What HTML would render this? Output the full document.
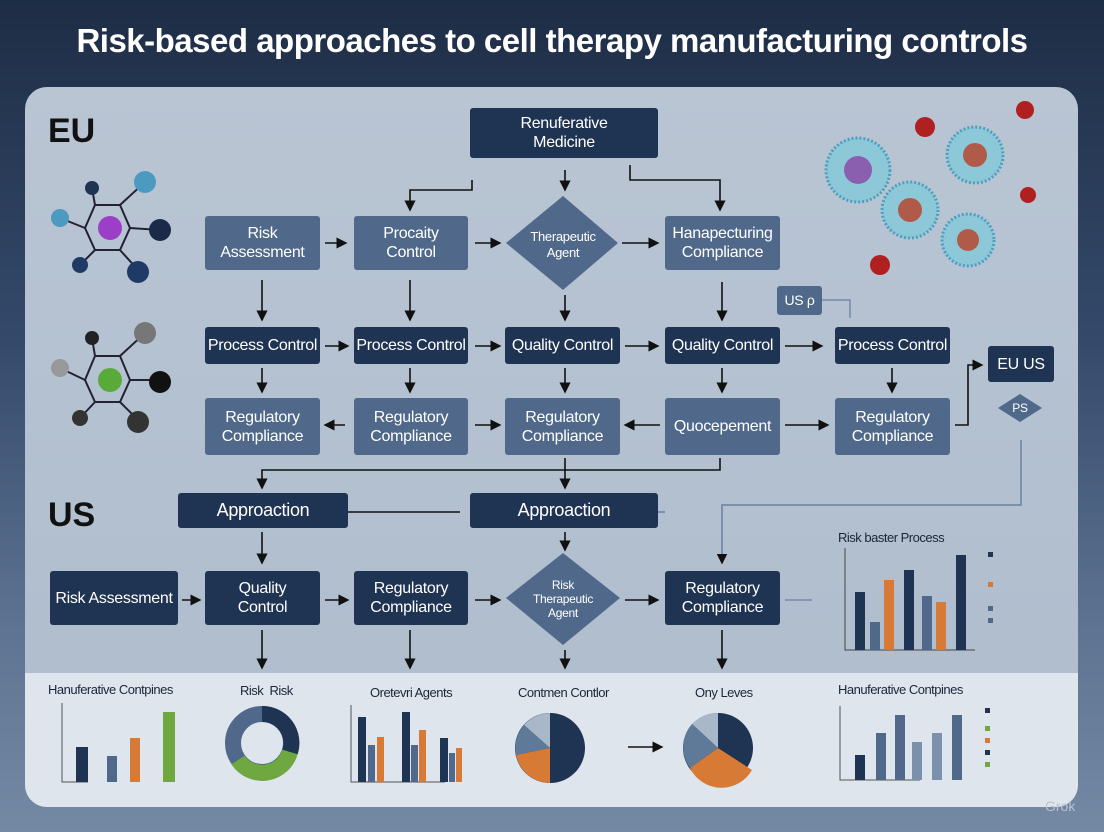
<!DOCTYPE html>
<html><head><meta charset="utf-8"><style>
*{margin:0;padding:0;box-sizing:border-box}
body{width:1104px;height:832px;overflow:hidden;font-family:"Liberation Sans",sans-serif;background:linear-gradient(180deg,#1e2d45 0%,#34496a 40%,#5d7391 75%,#7489a4 100%);position:relative}
.t{position:absolute;left:0;top:22px;width:1104px;text-align:center;color:#fff;font-weight:bold;font-size:33px;letter-spacing:-0.5px}
.panel{position:absolute;left:25px;top:87px;width:1053px;height:720px;border-radius:22px;background:linear-gradient(180deg,#b9c5d3,#aebccd)}
.strip{position:absolute;left:25px;top:673px;width:1053px;height:134px;border-radius:0 0 22px 22px;background:#dfe5ec}
.n{position:absolute;display:flex;align-items:center;justify-content:center;text-align:center;color:#fff;font-size:16px;line-height:19px;border-radius:3px;letter-spacing:-0.3px}
.d{background:#1f3352}.m{background:#50698a}
.lab{position:absolute;font-weight:bold;font-size:34px;color:#111}
.ct{position:absolute;font-size:13px;color:#1a2638;letter-spacing:-0.5px}
</style></head><body>
<div class="t">Risk-based approaches to cell therapy manufacturing controls</div>
<div class="panel"></div>
<div class="strip"></div>
<div class="lab" style="left:48px;top:112px">EU</div>
<div class="lab" style="left:48px;top:496px">US</div>

<svg style="position:absolute;left:0;top:0" width="1104" height="832">
<defs><marker id="a" markerWidth="7" markerHeight="7" refX="6" refY="3.5" orient="auto"><path d="M0,0L7,3.5L0,7z" fill="#111"/></marker></defs>
<g stroke="#111" stroke-width="1.6" fill="none" marker-end="url(#a)">
<path d="M472,180V190H410V210"/><path d="M630,165V180H720V210"/>
<path d="M565,170V190"/>
<path d="M325,243H346"/><path d="M475,243H500"/><path d="M622,243H658"/>
<path d="M262,280V320"/><path d="M410,280V320"/><path d="M565,295V320"/><path d="M722,282V320"/>
<path d="M325,346H348"/><path d="M475,346H500"/><path d="M625,346H658"/><path d="M785,346H822"/>
<path d="M262,368V392"/><path d="M410,368V392"/><path d="M565,368V392"/><path d="M722,368V392"/><path d="M892,368V392"/>
<path d="M345,425H325"/><path d="M475,425H500"/><path d="M660,425H625"/><path d="M785,425H828"/>
<path d="M955,425H968V365H982"/>
<path d="M565,458V470H262V488"/><path d="M720,458V470H565V488"/>
<path d="M262,532V563"/><path d="M565,532V550"/>
<path d="M182,600H200"/><path d="M325,600H348"/><path d="M475,600H500"/><path d="M625,600H658"/>
<path d="M262,630V668"/><path d="M410,630V668"/><path d="M565,650V668"/><path d="M722,630V668"/>
<path d="M628,747H662"/>
</g>
<path d="M348,512H460" stroke="#111" stroke-width="1.4"/>
<path d="M1021,440V505H722V563" stroke="#6b80a0" stroke-width="1.5" fill="none" marker-end="url(#a)"/>
<path d="M665,512H658" stroke="#6b80a0" stroke-width="1.5"/>
<path d="M822,300H850V318" stroke="#6b80a0" stroke-width="1.3" fill="none"/>
<path d="M785,600H812" stroke="#6b80a0" stroke-width="1.3"/>
<polygon points="563,196 618,243 563,290 506,243" fill="#50698a"/>
<polygon points="563,553 620,598 563,645 506,598" fill="#50698a"/>
<polygon points="1020,394 1042,408 1020,422 998,408" fill="#50698a"/>
<g stroke="#223" stroke-width="2">
<polygon points="95,205 120,205 130,228 120,250 95,250 85,228" fill="none"/>
<line x1="85" y1="228" x2="60" y2="218"/><line x1="120" y1="205" x2="145" y2="182"/><line x1="95" y1="205" x2="92" y2="188"/><line x1="130" y1="228" x2="160" y2="230"/><line x1="95" y1="250" x2="80" y2="265"/><line x1="120" y1="250" x2="138" y2="270"/>
<polygon points="95,356 120,356 130,380 120,402 95,402 85,380" fill="none"/>
<line x1="85" y1="380" x2="60" y2="368"/><line x1="120" y1="356" x2="145" y2="333"/><line x1="95" y1="356" x2="92" y2="338"/><line x1="130" y1="380" x2="160" y2="380"/><line x1="95" y1="402" x2="80" y2="418"/><line x1="120" y1="402" x2="138" y2="420"/>
</g>
<circle cx="110" cy="228" r="12" fill="#9b3fc8"/><circle cx="145" cy="182" r="11" fill="#4c9ac0"/><circle cx="60" cy="218" r="9" fill="#4c9ac0"/><circle cx="92" cy="188" r="7" fill="#1f3352"/><circle cx="160" cy="230" r="11" fill="#1a2a48"/><circle cx="80" cy="265" r="8" fill="#1f3a66"/><circle cx="138" cy="272" r="11" fill="#1f3a66"/>
<circle cx="110" cy="380" r="12" fill="#5aaa3a"/><circle cx="145" cy="333" r="11" fill="#777"/><circle cx="60" cy="368" r="9" fill="#999"/><circle cx="92" cy="338" r="7" fill="#222"/><circle cx="160" cy="382" r="11" fill="#111"/><circle cx="80" cy="418" r="8" fill="#333"/><circle cx="138" cy="422" r="11" fill="#333"/>
<g fill="#8cc8d8" stroke="#4aa0c0" stroke-width="3" stroke-dasharray="2 2">
<circle cx="858" cy="170" r="32"/><circle cx="910" cy="210" r="28"/><circle cx="975" cy="155" r="28"/><circle cx="968" cy="240" r="26"/>
</g>
<circle cx="858" cy="170" r="14" fill="#8a5fb0"/><circle cx="910" cy="210" r="12" fill="#b05a4a"/><circle cx="975" cy="155" r="12" fill="#b05a4a"/><circle cx="968" cy="240" r="11" fill="#b05a4a"/>
<circle cx="925" cy="127" r="10" fill="#b02020"/><circle cx="880" cy="265" r="10" fill="#b02020"/><circle cx="1025" cy="110" r="9" fill="#b02020"/><circle cx="1028" cy="195" r="8" fill="#b02020"/>
<g>
<path d="M845,548V650H975" stroke="#444" fill="none"/>
<rect x="855" y="592" width="10" height="58" fill="#1f3352"/><rect x="870" y="622" width="10" height="28" fill="#50698a"/><rect x="884" y="580" width="10" height="70" fill="#d67a35"/>
<rect x="904" y="570" width="10" height="80" fill="#1f3352"/><rect x="922" y="596" width="10" height="54" fill="#50698a"/><rect x="936" y="602" width="10" height="48" fill="#d67a35"/><rect x="956" y="555" width="10" height="95" fill="#1f3352"/>
<rect x="988" y="552" width="5" height="5" fill="#1f3352"/><rect x="988" y="582" width="5" height="5" fill="#d67a35"/><rect x="988" y="606" width="5" height="5" fill="#50698a"/><rect x="988" y="618" width="5" height="5" fill="#50698a"/>
</g>
<path d="M62,703V782H88" stroke="#555" fill="none"/>
<rect x="76" y="747" width="12" height="35" fill="#1f3352"/><rect x="107" y="756" width="10" height="26" fill="#50698a"/><rect x="130" y="738" width="10" height="44" fill="#d67a35"/><rect x="163" y="712" width="12" height="70" fill="#6fa840"/>
<circle cx="262" cy="743" r="29" fill="none" stroke="#50698a" stroke-width="16"/>
<path d="M262,714A29,29 0 0 1 290,752" stroke="#1f3352" stroke-width="16" fill="none"/>
<path d="M290,752A29,29 0 0 1 238,760" stroke="#6fa840" stroke-width="16" fill="none"/>
<path d="M351,705V782H445" stroke="#555" fill="none"/>
<rect x="358" y="717" width="8" height="65" fill="#1f3352"/><rect x="368" y="745" width="7" height="37" fill="#50698a"/><rect x="377" y="737" width="7" height="45" fill="#d67a35"/>
<rect x="402" y="712" width="8" height="70" fill="#1f3352"/><rect x="411" y="745" width="7" height="37" fill="#50698a"/><rect x="419" y="730" width="7" height="52" fill="#d67a35"/>
<rect x="440" y="738" width="8" height="44" fill="#1f3352"/><rect x="449" y="753" width="6" height="29" fill="#50698a"/><rect x="456" y="748" width="6" height="34" fill="#d67a35"/>
<circle cx="550" cy="748" r="35" fill="#1f3352"/>
<path d="M550,748L550,713A35,35 0 0 0 524,725z" fill="#a8b8c8"/>
<path d="M550,748L524,725A35,35 0 0 0 516,755z" fill="#5f7a98"/>
<path d="M550,748L516,755A35,35 0 0 0 550,783z" fill="#d67a35"/>
<circle cx="718" cy="748" r="35" fill="#1f3352"/>
<path d="M718,748L718,713A35,35 0 0 0 692,724z" fill="#a8b8c8"/>
<path d="M718,748L692,724A35,35 0 0 0 690,768z" fill="#5f7a98"/>
<path d="M718,748L690,768A35,35 0 0 0 752,770z" fill="#d67a35"/>
<path d="M840,706V780H920" stroke="#555" fill="none"/>
<rect x="855" y="755" width="10" height="25" fill="#1f3352"/><rect x="876" y="733" width="10" height="47" fill="#50698a"/><rect x="895" y="715" width="10" height="65" fill="#50698a"/><rect x="912" y="742" width="10" height="38" fill="#7a90ab"/><rect x="932" y="733" width="10" height="47" fill="#7a90ab"/><rect x="952" y="715" width="10" height="65" fill="#50698a"/>
<rect x="985" y="708" width="5" height="5" fill="#1f3352"/><rect x="985" y="726" width="5" height="5" fill="#6fa840"/><rect x="985" y="738" width="5" height="5" fill="#d67a35"/><rect x="985" y="750" width="5" height="5" fill="#1f3352"/><rect x="985" y="762" width="5" height="5" fill="#6fa840"/>
</svg>

<div class="n d" style="left:470px;top:108px;width:188px;height:50px">Renuferative<br>Medicine</div>
<div class="n m" style="left:205px;top:216px;width:115px;height:54px">Risk<br>Assessment</div>
<div class="n m" style="left:354px;top:216px;width:114px;height:54px">Procaity<br>Control</div>
<div class="n" style="left:506px;top:228px;width:114px;height:34px;font-size:13px;line-height:16px">Therapeutic<br>Agent</div>
<div class="n m" style="left:665px;top:216px;width:115px;height:54px">Hanapecturing<br>Compliance</div>
<div class="n m" style="left:777px;top:286px;width:45px;height:29px;font-size:14px">US ρ</div>
<div class="n d" style="left:205px;top:327px;width:115px;height:37px">Process Control</div>
<div class="n d" style="left:354px;top:327px;width:114px;height:37px">Process Control</div>
<div class="n d" style="left:505px;top:327px;width:115px;height:37px">Quality Control</div>
<div class="n d" style="left:665px;top:327px;width:115px;height:37px">Quality Control</div>
<div class="n d" style="left:835px;top:327px;width:115px;height:37px">Process Control</div>
<div class="n d" style="left:988px;top:346px;width:66px;height:36px">EU US</div>
<div class="n" style="left:1000px;top:400px;width:40px;height:16px;font-size:12px">PS</div>
<div class="n m" style="left:205px;top:398px;width:115px;height:57px">Regulatory<br>Compliance</div>
<div class="n m" style="left:354px;top:398px;width:114px;height:57px">Regulatory<br>Compliance</div>
<div class="n m" style="left:505px;top:398px;width:115px;height:57px">Regulatory<br>Compliance</div>
<div class="n m" style="left:665px;top:398px;width:115px;height:57px">Quocepement</div>
<div class="n m" style="left:835px;top:398px;width:115px;height:57px">Regulatory<br>Compliance</div>
<div class="n d" style="left:178px;top:493px;width:170px;height:35px;font-size:18px">Approaction</div>
<div class="n d" style="left:470px;top:493px;width:188px;height:35px;font-size:18px">Approaction</div>
<div class="n d" style="left:50px;top:571px;width:128px;height:54px">Risk Assessment</div>
<div class="n d" style="left:205px;top:571px;width:115px;height:54px">Quality<br>Control</div>
<div class="n d" style="left:354px;top:571px;width:114px;height:54px">Regulatory<br>Compliance</div>
<div class="n" style="left:506px;top:578px;width:114px;height:42px;font-size:12px;line-height:14px">Risk<br>Therapeutic<br>Agent</div>
<div class="n d" style="left:665px;top:571px;width:115px;height:54px">Regulatory<br>Compliance</div>
<div class="ct" style="left:838px;top:530px">Risk baster Process</div>
<div class="ct" style="left:48px;top:682px">Hanuferative Contpines</div>
<div class="ct" style="left:240px;top:683px">Risk&nbsp; Risk</div>
<div class="ct" style="left:370px;top:685px">Oretevri Agents</div>
<div class="ct" style="left:518px;top:685px">Contmen Contlor</div>
<div class="ct" style="left:695px;top:685px">Ony Leves</div>
<div class="ct" style="left:838px;top:682px">Hanuferative Contpines</div>
<div style="position:absolute;left:1045px;top:798px;color:#b8c4d2;font-size:14px">Grok</div>
</body></html>
